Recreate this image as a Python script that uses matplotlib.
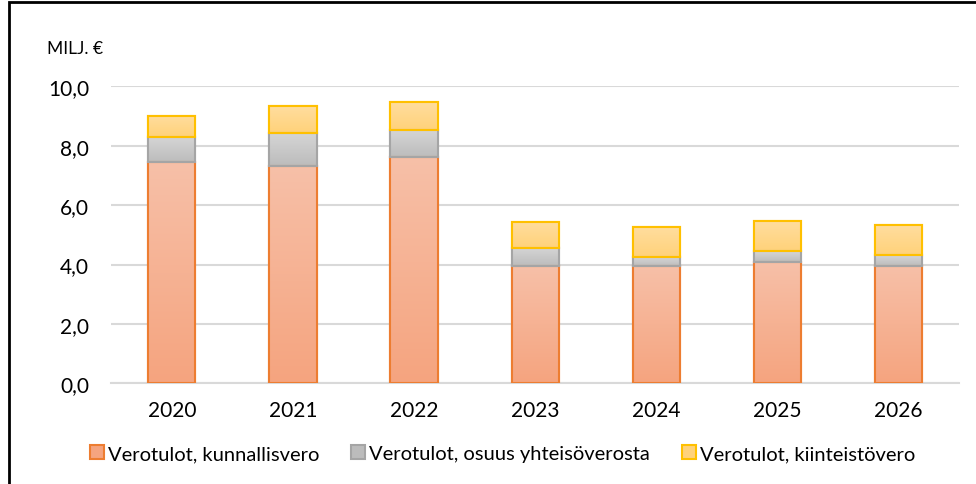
import numpy as np
import matplotlib
matplotlib.use("Agg")
import matplotlib.pyplot as plt
from matplotlib.patches import Rectangle
from matplotlib.lines import Line2D
from matplotlib.colors import LinearSegmentedColormap

plt.rcParams['font.family'] = ['Lato', 'DejaVu Sans']

vuodet = ['2020', '2021', '2022', '2023', '2024', '2025', '2026']
kunnallisvero = [7.44, 7.32, 7.61, 3.94, 3.96, 4.07, 3.96]
yhteisovero = [0.86, 1.12, 0.93, 0.62, 0.30, 0.37, 0.37]
kiinteistovero = [0.71, 0.89, 0.94, 0.88, 1.01, 1.01, 1.01]
nimet = ['Verotulot, kunnallisvero', 'Verotulot, osuus yhteisöverosta',
         'Verotulot, kiinteistövero']

# (top colour, bottom colour, edge)
tyylit = [('#F7C0A8', '#F5A47F', '#ED7D31'),
          ('#D6D6D6', '#BCBCBC', '#A5A5A5'),
          ('#FFDD9E', '#FFD27A', '#FFC000')]

fig = plt.figure(figsize=(9.76, 4.85), dpi=100)
ax = fig.add_axes([0.114, 0.2076, 0.8686, 0.6124])

x = np.arange(len(vuodet))
pohja = np.zeros(len(vuodet))
kahvat = []
for arvot, nimi, (yla, ala, reuna) in zip([kunnallisvero, yhteisovero, kiinteistovero], nimet, tyylit):
    bars = ax.bar(x, arvot, width=0.39, bottom=pohja, color=ala, edgecolor=reuna,
                  linewidth=1.5, label=nimi, zorder=3)
    cmap = LinearSegmentedColormap.from_list('g', [ala, yla])
    for b in bars:
        x0, y0 = b.get_x(), b.get_y()
        w, h = b.get_width(), b.get_height()
        # vertical gradient inside each segment
        im = ax.imshow(np.linspace(0, 1, 100).reshape(-1, 1), cmap=cmap,
                       extent=[x0, x0 + w, y0, y0 + h], origin='lower', aspect='auto',
                       zorder=3.5, vmin=0, vmax=1)
        clip = Rectangle((x0, y0), w, h, transform=ax.transData)
        im.set_clip_path(clip)
        ax.add_patch(Rectangle((x0, y0), w, h, fill=False, edgecolor=reuna,
                               linewidth=1.5, zorder=4))
    kahvat.append(bars)
    pohja = pohja + np.array(arvot)

ax.set_xlim(-0.5, len(vuodet) - 0.5)
ax.set_ylim(0, 10)
ax.set_xticks(x)
ax.set_xticklabels(vuodet, fontsize=15)
ax.set_yticks(np.arange(0, 10.1, 2))
ax.set_yticklabels([f'{v:.1f}'.replace('.', ',') for v in np.arange(0, 10.1, 2)], fontsize=15)
ax.tick_params(length=0)
ax.tick_params(axis='x', pad=12)
ax.tick_params(axis='y', pad=16)
ax.yaxis.grid(True, color='#D9D9D9', linewidth=1.5, zorder=0)
ax.set_axisbelow(True)
for s in ['top', 'right', 'left']:
    ax.spines[s].set_visible(False)
ax.spines['bottom'].set_color('#D9D9D9')
ax.spines['bottom'].set_linewidth(1.5)

fig.text(0.048, 0.9, 'MILJ. €', fontsize=12.5, ha='left', va='center')

fig.legend(kahvat, nimet, loc='center', bbox_to_anchor=(0.515, 0.062), ncol=3,
           frameon=False, fontsize=14.5, handlelength=0.7, handleheight=0.7,
           handletextpad=0.2, columnspacing=1.6)

# kehys: vain ylä- ja vasen reuna näkyvät (rajattu kuva)
fig.add_artist(Line2D([0.009, 0.009, 1.0], [0.0, 0.994, 0.994], transform=fig.transFigure,
                      color='black', linewidth=2, solid_joinstyle='miter'))

fig.savefig('out.png', dpi=100)
